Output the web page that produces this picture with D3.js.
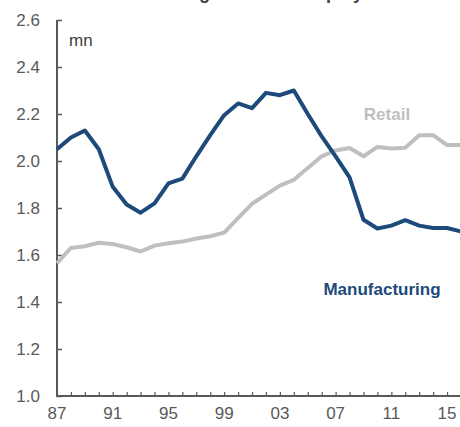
<!DOCTYPE html>
<html>
<head>
<meta charset="utf-8">
<script src="https://cdn.jsdelivr.net/npm/d3@7"></script>
<style>
  body { margin: 0; background: #fff; }
  svg { display: block; font-family: "Liberation Sans", Arial, sans-serif; }
</style>
</head>
<body>
<div id="canvas"></div>
<script>
// years and series (mn employees)
var years = d3.range(1987, 2017);
var manufacturing = [2.05, 2.10, 2.13, 2.05, 1.89, 1.815, 1.78, 1.82, 1.905, 1.925,
                     2.02, 2.11, 2.195, 2.245, 2.225, 2.29, 2.28, 2.30, 2.20, 2.105,
                     2.02, 1.93, 1.75, 1.713, 1.725, 1.748, 1.725, 1.715, 1.715, 1.70];
var retail = [1.565, 1.63, 1.637, 1.652, 1.647, 1.633, 1.615, 1.64, 1.65, 1.657,
              1.67, 1.68, 1.695, 1.757, 1.818, 1.857, 1.895, 1.92, 1.97, 2.02,
              2.045, 2.055, 2.02, 2.06, 2.053, 2.056, 2.11, 2.11, 2.068, 2.068];
var yTicks = [1.0, 1.2, 1.4, 1.6, 1.8, 2.0, 2.2, 2.4, 2.6];
var xLabelYears = [1987, 1991, 1995, 1999, 2003, 2007, 2011, 2015];

var width = 460, height = 427;

var svg = d3.select("#canvas").append("svg")
    .attr("width", width)
    .attr("height", height);

var x = d3.scaleLinear().domain([1987, 2016]).range([57, 461]);
var y = d3.scaleLinear().domain([1.0, 2.6]).range([396, 20]);

// title, cut off by the top edge as in the source
svg.append("text")
    .attr("x", 246).attr("y", -1)
    .attr("text-anchor", "middle")
    .style("font-size", "18px").style("font-weight", "bold")
    .style("fill", "#404040")
    .text("Manufacturing and retail employment");

var grey = "#595959";

// y axis, ticks inside
var yAxis = svg.append("g")
    .attr("transform", "translate(57,0)")
    .call(d3.axisLeft(y).tickValues(yTicks).tickSize(-5).tickPadding(17)
        .tickFormat(d3.format(".1f")));
yAxis.select(".domain").remove();
yAxis.selectAll("line").attr("stroke", grey).attr("stroke-width", 1.5);
yAxis.selectAll("text").style("font-size", "17px").style("fill", grey);

// x axis, yearly ticks inside
var xAxis = svg.append("g")
    .attr("transform", "translate(0,396)")
    .call(d3.axisBottom(x).tickValues(years).tickSize(-4).tickFormat(""));
xAxis.select(".domain").remove();
xAxis.selectAll("line").attr("stroke", grey).attr("stroke-width", 1.2);

svg.append("g").selectAll("text").data(xLabelYears).enter().append("text")
    .attr("x", function (d) { return x(d); })
    .attr("y", 419)
    .attr("text-anchor", "middle")
    .style("font-size", "17px").style("fill", grey)
    .text(function (d) { return String(d).slice(2); });

// axis lines
svg.append("line").attr("x1", 57).attr("x2", 57).attr("y1", y(2.6)).attr("y2", y(1.0))
    .attr("stroke", grey).attr("stroke-width", 2);
svg.append("line").attr("x1", 56).attr("x2", width).attr("y1", y(1.0)).attr("y2", y(1.0))
    .attr("stroke", grey).attr("stroke-width", 2);

svg.append("text").attr("x", 69).attr("y", 46)
    .style("font-size", "17px").style("fill", "#404040").text("mn");

var line = d3.line()
    .x(function (d, i) { return x(years[i]); })
    .y(function (d) { return y(d); });

svg.append("path").datum(retail)
    .attr("d", line).attr("fill", "none")
    .attr("stroke", "#bfbfbf").attr("stroke-width", 4).attr("stroke-linejoin", "round");

svg.append("path").datum(manufacturing)
    .attr("d", line).attr("fill", "none")
    .attr("stroke", "#1d4a7b").attr("stroke-width", 4).attr("stroke-linejoin", "round");

svg.append("text").attr("x", 387).attr("y", 120).attr("text-anchor", "middle")
    .style("font-size", "17px").style("font-weight", "bold").style("fill", "#bfbfbf")
    .text("Retail");

svg.append("text").attr("x", 382).attr("y", 295).attr("text-anchor", "middle")
    .style("font-size", "17px").style("font-weight", "bold").style("fill", "#1d4a7b")
    .text("Manufacturing");
</script>
</body>
</html>
